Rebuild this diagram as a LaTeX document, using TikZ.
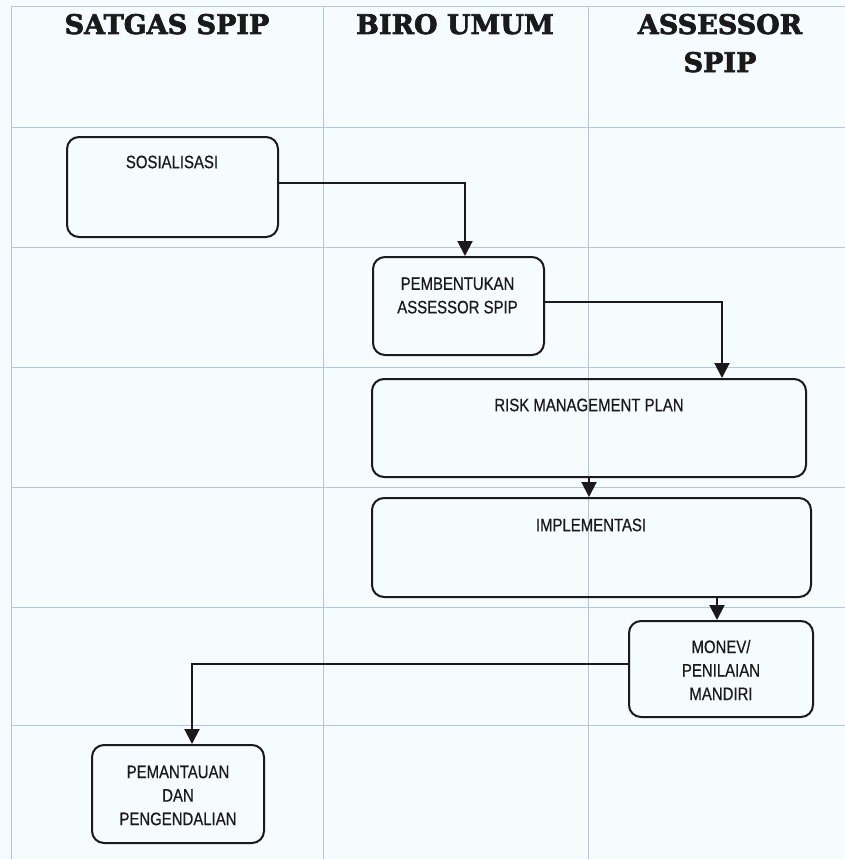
\documentclass[tikz,border=0pt]{standalone}
\usepackage{fontspec}
\usetikzlibrary{arrows.meta}
\newfontfamily\headfont[FakeBold=2.5]{DejaVu Serif}
\newfontfamily\boxfont[FakeStretch=0.83,FakeBold=0.6]{Liberation Sans}
\definecolor{gridblue}{HTML}{B3C9DB}
\definecolor{paper}{HTML}{F6FBFD}
\definecolor{ink}{HTML}{1A1A1A}
\tikzset{
  lane/.style={draw=gridblue, line width=0.9pt},
  head/.style={font=\headfont\bfseries\fontsize{27}{38}\selectfont, anchor=base, inner sep=0pt, text=ink},
  procbox/.style={draw=ink, line width=2pt, rounded corners=12pt, inner sep=0pt},
  boxtext/.style={font=\boxfont\fontsize{18}{23.5}\selectfont, align=center, inner sep=0pt, text=ink},
  flow/.style={draw=ink, line width=2pt, -{Triangle[length=15pt,width=15pt]}},
}
\begin{document}
\begin{tikzpicture}[x=1pt, y=-1pt]
  % page and swimlane grid
  \fill[paper] (0,0) rectangle (845,859);
  \useasboundingbox (0,0) rectangle (845,859);
  \foreach \gx in {11,323,588} \draw[lane] (\gx,6) -- (\gx,859);
  \foreach \gy in {6,127,247,367,487,607,725} \draw[lane] (11,\gy) -- (845,\gy);

  % lane headings
  \node[head] (hsat) at (167,34) {SATGAS SPIP};
  \node[head] (hbiro) at (455,34) {BIRO UMUM};
  \node[head] (hass) at (720,34) {ASSESSOR};
  \node[head] (hspip) at (720,72) {SPIP};

  % process boxes
  \node[procbox, minimum width=211pt, minimum height=100pt] (sos) at (172.5,187) {};
  \node[boxtext] (sost) at (172,162) {SOSIALISASI};

  \node[procbox, minimum width=171pt, minimum height=98pt] (pem) at (458.5,306) {};
  \node[boxtext] (pemt) at (457.5,295.5) {PEMBENTUKAN\\ASSESSOR SPIP};

  \node[procbox, minimum width=434pt, minimum height=98pt] (risk) at (589,428) {};
  \node[boxtext] (riskt) at (589,405) {RISK MANAGEMENT PLAN};

  \node[procbox, minimum width=439pt, minimum height=99pt] (impl) at (591.5,547.5) {};
  \node[boxtext] (implt) at (591,525) {IMPLEMENTASI};

  \node[procbox, minimum width=184pt, minimum height=96pt] (monev) at (721,669) {};
  \node[boxtext] (monevt) at (721,670) {MONEV/\\PENILAIAN\\MANDIRI};

  \node[procbox, minimum width=172pt, minimum height=98pt] (pmt) at (178,794) {};
  \node[boxtext] (pmtt) at (178,795.5) {PEMANTAUAN\\DAN\\PENGENDALIAN};

  % flow connectors
  \draw[flow] ([yshift=4pt]sos.east) -| ([xshift=6.5pt]pem.north);
  \draw[flow] ([yshift=4pt]pem.east) -| ([xshift=133pt]risk.north);
  \draw[flow] (risk.south) -- (risk.south |- impl.north);
  \draw[flow] ([xshift=125.5pt]impl.south) -- ([xshift=-4pt]monev.north);
  \draw[flow] ([yshift=5pt]monev.west) -| ([xshift=14pt]pmt.north);
\end{tikzpicture}
\end{document}
